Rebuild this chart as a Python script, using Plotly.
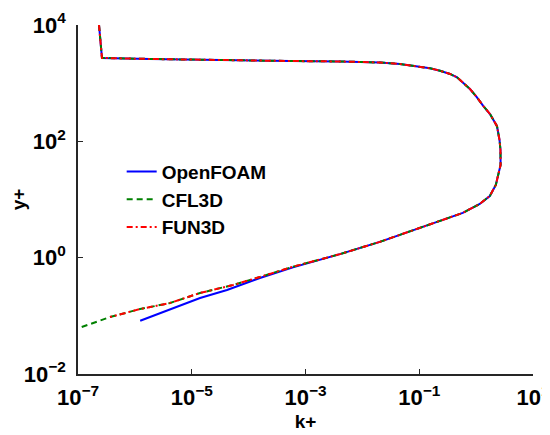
import plotly.graph_objects as go

# Shared upper/outer part of the profile (all three codes overlap)
k_common = [2.34e-7, 2.64e-7, 1.84e-6, 1.39e-5, 1.05e-4, 5.32e-4, 4.05e-3, 2.04e-2,
            4.59e-2, 0.1030, 0.1545, 0.2317, 0.3475, 0.4613, 0.5875, 0.7798, 1.035,
            1.321, 1.754, 2.328, 2.58, 2.68, 2.69, 2.52, 2.22, 1.74, 1.16, 0.583,
            0.230, 0.1026, 2.03e-2, 4.03e-3]
y_common = [1.0e4, 2710, 2606, 2506, 2455, 2404, 2360, 2265, 2137, 1875, 1803,
            1637, 1439, 1262, 1035, 794, 571, 410, 295, 182, 105, 71.0, 39.2,
            29.7, 17.8, 11.5, 8.39, 5.89, 4.29, 3.25, 1.87, 1.15]

# Near-wall tails
k_openfoam_tail = [6.03e-4, 1.58e-4, 4.17e-5, 1.40e-5, 6.21e-6, 2.77e-6, 1.24e-6]
y_openfoam_tail = [0.68, 0.448, 0.278, 0.203, 0.150, 0.108, 0.0824]
k_cfl3d_tail = [6.03e-4, 1.58e-4, 5.31e-5, 1.40e-5, 4.15e-6, 1.24e-6, 3.66e-7, 1.01e-7]
y_cfl3d_tail = [0.70, 0.465, 0.339, 0.247, 0.166, 0.131, 0.0955, 0.0611]
k_fun3d_tail = [6.03e-4, 1.58e-4, 5.31e-5, 1.40e-5, 4.15e-6, 1.24e-6, 3.66e-7]
y_fun3d_tail = [0.70, 0.465, 0.339, 0.247, 0.166, 0.131, 0.0955]

x_tickvals = [1e-7, 1e-5, 1e-3, 1e-1, 1e1]
x_ticktext = ["<b>10<sup>−7</sup></b>", "<b>10<sup>−5</sup></b>", "<b>10<sup>−3</sup></b>",
              "<b>10<sup>−1</sup></b>", "<b>10<sup>1</sup></b>"]
y_tickvals = [1e-2, 1e0, 1e2, 1e4]
y_ticktext = ["<b>10<sup>−2</sup></b>", "<b>10<sup>0</sup></b>", "<b>10<sup>2</sup></b>",
              "<b>10<sup>4</sup></b>"]

FONT = "Liberation Sans, Arial, Helvetica, sans-serif"

fig = go.Figure()
fig.add_trace(go.Scatter(x=k_common + k_openfoam_tail, y=y_common + y_openfoam_tail,
                         mode="lines", name="<b>OpenFOAM</b>",
                         line=dict(color="rgb(0,0,255)", width=2)))
fig.add_trace(go.Scatter(x=k_common + k_cfl3d_tail, y=y_common + y_cfl3d_tail,
                         mode="lines", name="<b>CFL3D</b>",
                         line=dict(color="rgb(0,128,0)", width=2, dash="6px,4px")))
fig.add_trace(go.Scatter(x=k_common + k_fun3d_tail, y=y_common + y_fun3d_tail,
                         mode="lines", name="<b>FUN3D</b>",
                         line=dict(color="rgb(255,0,0)", width=2, dash="6px,3px,2px,3px")))

axis_common = dict(type="log", showgrid=False, zeroline=False, showline=True,
                   linecolor="#262626", linewidth=1.5, ticks="inside", ticklen=5,
                   tickcolor="#262626", tickwidth=1.2, mirror=False,
                   ticklabeloverflow="allow",
                   tickfont=dict(family=FONT, size=22, color="black"))

fig.update_xaxes(range=[-7, 1], tickvals=x_tickvals, ticktext=x_ticktext,
                 ticklabelstandoff=3,
                 title=dict(text="<b>k+</b>", font=dict(family=FONT, size=19, color="black"),
                            standoff=6),
                 **axis_common)
fig.update_yaxes(range=[-2, 4], tickvals=y_tickvals, ticktext=y_ticktext,
                 ticklabelstandoff=6,
                 title=dict(text="<b>y+</b>", font=dict(family=FONT, size=19, color="black"),
                            standoff=2),
                 **axis_common)

# page body has an 8px margin: margins compensate so the plot area
# lands at x 78..533, y 25..374 of the window
fig.update_layout(
    width=550, height=435,
    margin=dict(l=70, r=25, t=17, b=69, autoexpand=False),
    paper_bgcolor="white", plot_bgcolor="white",
    font=dict(family=FONT, color="black"),
    legend=dict(x=0.096, y=0.634, xanchor="left", yanchor="top",
                bgcolor="rgba(255,255,255,0)", font=dict(family=FONT, size=19, color="black"),
                tracegroupgap=0),
    showlegend=True,
)

fig.write_html("out.html")
